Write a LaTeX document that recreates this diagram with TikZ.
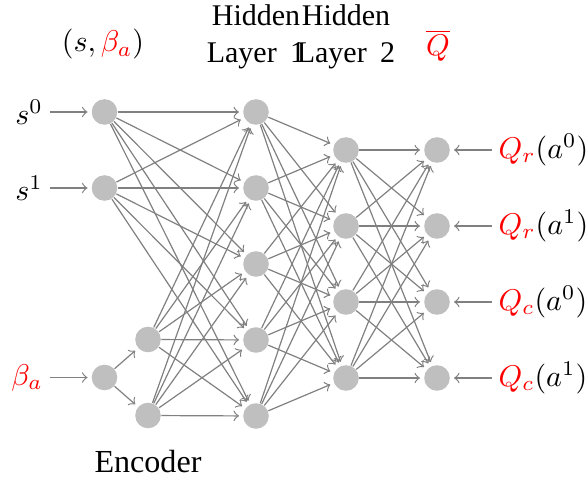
\documentclass[tikz,border=0pt]{standalone}
\usepackage[no-math]{fontspec}
\setmainfont{Liberation Serif}
\begin{document}
\begin{tikzpicture}[x=0.3333pt,y=-0.3333pt,
  neuron/.style={circle,fill=gray!50,minimum size=8.53pt,inner sep=0pt},
  conn/.style={->,draw=gray,line width=0.4pt,shorten >=1.2pt},
  lab/.style={inner sep=2pt},
  toplab/.style={anchor=north,inner sep=0pt,align=center,font=\fontsize{10}{12.2}\selectfont}]
\useasboundingbox (0,0) rectangle (586,479);
% input layer
\node[neuron] (I1) at (104.5,112) {};
\node[neuron] (I2) at (104.5,188) {};
\node[neuron] (I3) at (104.5,377.5) {};
% encoder
\node[neuron] (E1) at (148,339.5) {};
\node[neuron] (E2) at (148,415.5) {};
% hidden layer 1
\foreach \i/\y in {1/112,2/188,3/264,4/340,5/416}
  \node[neuron] (H\i) at (256,\y) {};
% hidden layer 2
\foreach \i/\y in {1/150,2/226,3/302,4/378}
  \node[neuron] (G\i) at (346,\y) {};
% output layer
\foreach \i/\y in {1/150,2/226,3/302,4/378}
  \node[neuron] (O\i) at (437,\y) {};
% connections
\draw[conn] (I3) -- (E1);
\draw[conn] (I3) -- (E2);
\foreach \s in {I1,I2,E1,E2}
  \foreach \t in {1,...,5}
    \draw[conn] (\s) -- (H\t);
\foreach \s in {1,...,5}
  \foreach \t in {1,...,4}
    \draw[conn] (H\s) -- (G\t);
\foreach \s in {1,...,4}
  \foreach \t in {1,...,4}
    \draw[conn] (G\s) -- (O\t);
% input labels
\node[lab,anchor=east] (L1) at (49.5,112) {$s^0$};
\node[lab,anchor=east] (L2) at (49.5,188) {$s^1$};
\node[lab,anchor=east] (L3) at (49.5,377.5) {${\color{red}\beta_a}$};
\draw[conn] (L1) -- (I1);
\draw[conn] (L2) -- (I2);
\draw[conn] (L3) -- (I3);
% output labels
\node[lab,anchor=west] (R1) at (492,150) {${\color{red}Q_r}(a^0)$};
\node[lab,anchor=west] (R2) at (492,226) {${\color{red}Q_r}(a^1)$};
\node[lab,anchor=west] (R3) at (492,302) {${\color{red}Q_c}(a^0)$};
\node[lab,anchor=west] (R4) at (492,378) {${\color{red}Q_c}(a^1)$};
\draw[conn] (R1) -- (O1);
\draw[conn] (R2) -- (O2);
\draw[conn] (R3) -- (O3);
\draw[conn] (R4) -- (O4);
% top labels
\node[anchor=base] (T0) at (103,52) {$(s,{\color{red}\beta_a})$};
\node[toplab] (T1) at (256,4) {Hidden\\Layer\hspace{0.45em}1};
\node[toplab] (T2) at (346,4) {Hidden\\Layer\hspace{0.45em}2};
\node[anchor=base] (T3) at (438,56) {${\color{red}\overline{Q}}$};
% bottom label
\node[anchor=base,font=\fontsize{10.7}{13}\selectfont] (B) at (148,472) {Encoder};
\end{tikzpicture}
\end{document}
